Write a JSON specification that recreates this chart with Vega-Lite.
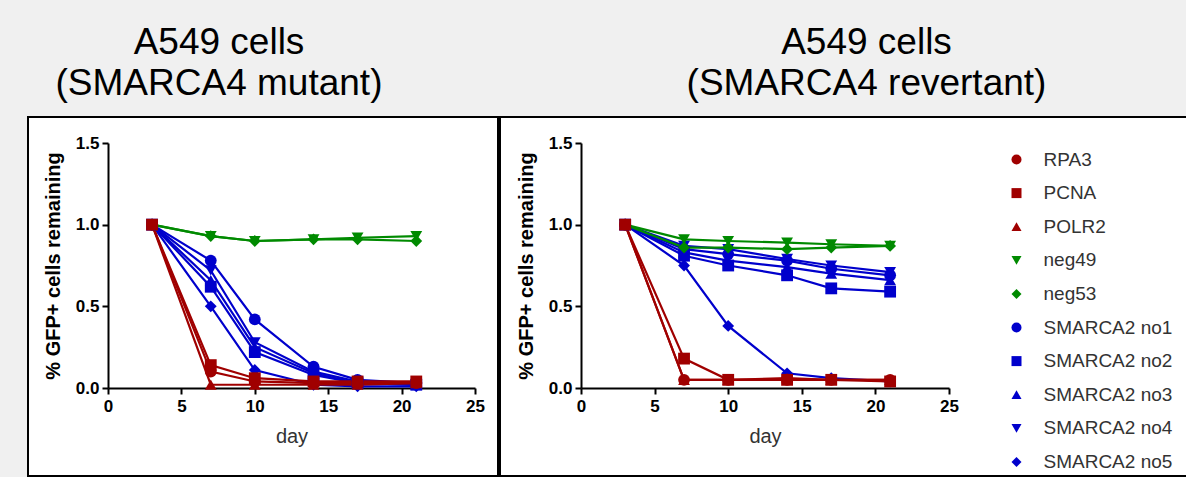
{
  "$schema": "https://vega.github.io/schema/vega-lite/v6.json",
  "background": "#f0f0f0",
  "padding": {"left": 27, "top": 23, "right": 0, "bottom": 0},
  "spacing": 0,
  "config": {
    "view": {"fill": "white", "stroke": "black", "strokeWidth": 2},
    "font": "Liberation Sans",
    "title": {"fontSize": 37, "fontWeight": "normal", "font": "Liberation Sans", "lineHeight": 41, "anchor": "middle", "color": "black", "offset": 14},
    "axis": {"grid": false, "labelFlush": false, "domainColor": "black", "domainWidth": 2, "tickColor": "black", "tickWidth": 2, "tickSize": 6, "labelFont": "Liberation Sans", "labelFontSize": 17, "labelFontWeight": "bold", "labelColor": "black", "titleFont": "Liberation Sans"},
    "axisX": {"titleFontWeight": "normal", "titleFontSize": 20, "titleColor": "#333", "labelPadding": 4, "titlePadding": 12},
    "axisY": {"titleFontWeight": "bold", "titleFontSize": 20, "titleColor": "black", "labelPadding": 3, "titlePadding": 12}
  },
  "datasets": {
    "d": [
      {"p":"m","s":"SMARCA2 no1","d":3,"v":1.0},{"p":"m","s":"SMARCA2 no1","d":7,"v":0.78},{"p":"m","s":"SMARCA2 no1","d":10,"v":0.42},{"p":"m","s":"SMARCA2 no1","d":14,"v":0.13},{"p":"m","s":"SMARCA2 no1","d":17,"v":0.05},{"p":"m","s":"SMARCA2 no1","d":21,"v":0.03},
      {"p":"m","s":"SMARCA2 no2","d":3,"v":1.0},{"p":"m","s":"SMARCA2 no2","d":7,"v":0.62},{"p":"m","s":"SMARCA2 no2","d":10,"v":0.22},{"p":"m","s":"SMARCA2 no2","d":14,"v":0.08},{"p":"m","s":"SMARCA2 no2","d":17,"v":0.03},{"p":"m","s":"SMARCA2 no2","d":21,"v":0.02},
      {"p":"m","s":"SMARCA2 no3","d":3,"v":1.0},{"p":"m","s":"SMARCA2 no3","d":7,"v":0.66},{"p":"m","s":"SMARCA2 no3","d":10,"v":0.25},{"p":"m","s":"SMARCA2 no3","d":14,"v":0.09},{"p":"m","s":"SMARCA2 no3","d":17,"v":0.03},{"p":"m","s":"SMARCA2 no3","d":21,"v":0.02},
      {"p":"m","s":"SMARCA2 no4","d":3,"v":1.0},{"p":"m","s":"SMARCA2 no4","d":7,"v":0.72},{"p":"m","s":"SMARCA2 no4","d":10,"v":0.28},{"p":"m","s":"SMARCA2 no4","d":14,"v":0.10},{"p":"m","s":"SMARCA2 no4","d":17,"v":0.04},{"p":"m","s":"SMARCA2 no4","d":21,"v":0.02},
      {"p":"m","s":"SMARCA2 no5","d":3,"v":1.0},{"p":"m","s":"SMARCA2 no5","d":7,"v":0.50},{"p":"m","s":"SMARCA2 no5","d":10,"v":0.11},{"p":"m","s":"SMARCA2 no5","d":14,"v":0.02},{"p":"m","s":"SMARCA2 no5","d":17,"v":0.01},{"p":"m","s":"SMARCA2 no5","d":21,"v":0.01},
      {"p":"m","s":"neg49","d":3,"v":1.0},{"p":"m","s":"neg49","d":7,"v":0.93},{"p":"m","s":"neg49","d":10,"v":0.90},{"p":"m","s":"neg49","d":14,"v":0.91},{"p":"m","s":"neg49","d":17,"v":0.92},{"p":"m","s":"neg49","d":21,"v":0.93},
      {"p":"m","s":"neg53","d":3,"v":1.0},{"p":"m","s":"neg53","d":7,"v":0.93},{"p":"m","s":"neg53","d":10,"v":0.90},{"p":"m","s":"neg53","d":14,"v":0.91},{"p":"m","s":"neg53","d":17,"v":0.91},{"p":"m","s":"neg53","d":21,"v":0.90},
      {"p":"m","s":"RPA3","d":3,"v":1.0},{"p":"m","s":"RPA3","d":7,"v":0.10},{"p":"m","s":"RPA3","d":10,"v":0.04},{"p":"m","s":"RPA3","d":14,"v":0.03},{"p":"m","s":"RPA3","d":17,"v":0.03},{"p":"m","s":"RPA3","d":21,"v":0.03},
      {"p":"m","s":"PCNA","d":3,"v":1.0},{"p":"m","s":"PCNA","d":7,"v":0.14},{"p":"m","s":"PCNA","d":10,"v":0.06},{"p":"m","s":"PCNA","d":14,"v":0.04},{"p":"m","s":"PCNA","d":17,"v":0.04},{"p":"m","s":"PCNA","d":21,"v":0.04},
      {"p":"m","s":"POLR2","d":3,"v":1.0},{"p":"m","s":"POLR2","d":7,"v":0.02},{"p":"m","s":"POLR2","d":10,"v":0.02},{"p":"m","s":"POLR2","d":14,"v":0.02},{"p":"m","s":"POLR2","d":17,"v":0.02},{"p":"m","s":"POLR2","d":21,"v":0.03},
      {"p":"r","s":"SMARCA2 no1","d":3,"v":1.0},{"p":"r","s":"SMARCA2 no1","d":7,"v":0.85},{"p":"r","s":"SMARCA2 no1","d":10,"v":0.82},{"p":"r","s":"SMARCA2 no1","d":14,"v":0.78},{"p":"r","s":"SMARCA2 no1","d":17,"v":0.73},{"p":"r","s":"SMARCA2 no1","d":21,"v":0.69},
      {"p":"r","s":"SMARCA2 no2","d":3,"v":1.0},{"p":"r","s":"SMARCA2 no2","d":7,"v":0.81},{"p":"r","s":"SMARCA2 no2","d":10,"v":0.75},{"p":"r","s":"SMARCA2 no2","d":14,"v":0.69},{"p":"r","s":"SMARCA2 no2","d":17,"v":0.61},{"p":"r","s":"SMARCA2 no2","d":21,"v":0.59},
      {"p":"r","s":"SMARCA2 no3","d":3,"v":1.0},{"p":"r","s":"SMARCA2 no3","d":7,"v":0.83},{"p":"r","s":"SMARCA2 no3","d":10,"v":0.78},{"p":"r","s":"SMARCA2 no3","d":14,"v":0.74},{"p":"r","s":"SMARCA2 no3","d":17,"v":0.70},{"p":"r","s":"SMARCA2 no3","d":21,"v":0.66},
      {"p":"r","s":"SMARCA2 no4","d":3,"v":1.0},{"p":"r","s":"SMARCA2 no4","d":7,"v":0.87},{"p":"r","s":"SMARCA2 no4","d":10,"v":0.85},{"p":"r","s":"SMARCA2 no4","d":14,"v":0.79},{"p":"r","s":"SMARCA2 no4","d":17,"v":0.75},{"p":"r","s":"SMARCA2 no4","d":21,"v":0.71},
      {"p":"r","s":"SMARCA2 no5","d":3,"v":1.0},{"p":"r","s":"SMARCA2 no5","d":7,"v":0.75},{"p":"r","s":"SMARCA2 no5","d":10,"v":0.38},{"p":"r","s":"SMARCA2 no5","d":14,"v":0.09},{"p":"r","s":"SMARCA2 no5","d":17,"v":0.06},{"p":"r","s":"SMARCA2 no5","d":21,"v":0.04},
      {"p":"r","s":"neg49","d":3,"v":1.0},{"p":"r","s":"neg49","d":7,"v":0.91},{"p":"r","s":"neg49","d":10,"v":0.90},{"p":"r","s":"neg49","d":14,"v":0.89},{"p":"r","s":"neg49","d":17,"v":0.88},{"p":"r","s":"neg49","d":21,"v":0.87},
      {"p":"r","s":"neg53","d":3,"v":1.0},{"p":"r","s":"neg53","d":7,"v":0.86},{"p":"r","s":"neg53","d":10,"v":0.86},{"p":"r","s":"neg53","d":14,"v":0.85},{"p":"r","s":"neg53","d":17,"v":0.86},{"p":"r","s":"neg53","d":21,"v":0.87},
      {"p":"r","s":"RPA3","d":3,"v":1.0},{"p":"r","s":"RPA3","d":7,"v":0.05},{"p":"r","s":"RPA3","d":10,"v":0.05},{"p":"r","s":"RPA3","d":14,"v":0.05},{"p":"r","s":"RPA3","d":17,"v":0.05},{"p":"r","s":"RPA3","d":21,"v":0.05},
      {"p":"r","s":"PCNA","d":3,"v":1.0},{"p":"r","s":"PCNA","d":7,"v":0.18},{"p":"r","s":"PCNA","d":10,"v":0.05},{"p":"r","s":"PCNA","d":14,"v":0.05},{"p":"r","s":"PCNA","d":17,"v":0.05},{"p":"r","s":"PCNA","d":21,"v":0.04},
      {"p":"r","s":"POLR2","d":3,"v":1.0},{"p":"r","s":"POLR2","d":7,"v":0.05},{"p":"r","s":"POLR2","d":10,"v":0.05},{"p":"r","s":"POLR2","d":14,"v":0.06},{"p":"r","s":"POLR2","d":17,"v":0.05},{"p":"r","s":"POLR2","d":21,"v":0.05}
    ]
  },
  "resolve": {"legend": {"color": "independent", "shape": "independent"}},
  "hconcat": [
    {
      "width": 470,
      "height": 359,
      "data": {"name": "d"},
      "transform": [{"filter": "datum.p == 'm'"}],
      "title": {"text": ["A549 cells", "(SMARCA4 mutant)"], "dx": -44},
      "encoding": {
        "x": {"field": "d", "type": "quantitative", "scale": {"domain": [0, 25], "range": [80, 447], "nice": false, "zero": true, "padding": 0}, "axis": {"values": [0, 5, 10, 15, 20, 25], "offset": -88, "title": "day"}},
        "y": {"field": "v", "type": "quantitative", "scale": {"domain": [0, 1.5], "range": [271, 26], "nice": false, "padding": 0}, "axis": {"values": [0, 0.5, 1, 1.5], "format": ".1f", "offset": -80, "title": "% GFP+ cells remaining"}},
        "color": {"field": "s", "type": "nominal", "scale": {"domain": ["RPA3","PCNA","POLR2","neg49","neg53","SMARCA2 no1","SMARCA2 no2","SMARCA2 no3","SMARCA2 no4","SMARCA2 no5"], "range": ["#a00000","#a00000","#a00000","#008a00","#008a00","#0000cc","#0000cc","#0000cc","#0000cc","#0000cc"]}, "legend": null}
      },
      "layer": [
        {"mark": {"type": "line", "strokeWidth": 2.2}},
        {"mark": {"type": "point", "filled": true, "size": 140, "opacity": 1}, "encoding": {"shape": {"field": "s", "type": "nominal", "scale": {"domain": ["RPA3","PCNA","POLR2","neg49","neg53","SMARCA2 no1","SMARCA2 no2","SMARCA2 no3","SMARCA2 no4","SMARCA2 no5"], "range": ["circle","square","triangle-up","triangle-down","diamond","circle","square","triangle-up","triangle-down","diamond"]}, "legend": null}}}
      ]
    },
    {
      "width": 687,
      "height": 359,
      "data": {"name": "d"},
      "transform": [{"filter": "datum.p == 'r'"}],
      "title": {"text": ["A549 cells", "(SMARCA4 revertant)"], "dx": 23},
      "encoding": {
        "x": {"field": "d", "type": "quantitative", "scale": {"domain": [0, 25], "range": [81, 449], "nice": false, "zero": true, "padding": 0}, "axis": {"values": [0, 5, 10, 15, 20, 25], "offset": -88, "title": "day"}},
        "y": {"field": "v", "type": "quantitative", "scale": {"domain": [0, 1.5], "range": [271, 26], "nice": false, "padding": 0}, "axis": {"values": [0, 0.5, 1, 1.5], "format": ".1f", "offset": -81, "title": "% GFP+ cells remaining"}},
        "color": {
          "field": "s", "type": "nominal",
          "scale": {"domain": ["RPA3","PCNA","POLR2","neg49","neg53","SMARCA2 no1","SMARCA2 no2","SMARCA2 no3","SMARCA2 no4","SMARCA2 no5"], "range": ["#a00000","#a00000","#a00000","#008a00","#008a00","#0000cc","#0000cc","#0000cc","#0000cc","#0000cc"]},
          "legend": {
            "orient": "none", "legendX": 507, "legendY": 33, "title": null,
            "labelFont": "Liberation Sans", "labelFontSize": 19, "labelColor": "#333",
            "symbolSize": 100, "symbolStrokeWidth": 0, "rowPadding": 13.6, "labelOffset": 17.5
          }
        }
      },
      "layer": [
        {"mark": {"type": "line", "strokeWidth": 2.2}},
        {"mark": {"type": "point", "filled": true, "size": 140, "opacity": 1}, "encoding": {"shape": {"field": "s", "type": "nominal", "scale": {"domain": ["RPA3","PCNA","POLR2","neg49","neg53","SMARCA2 no1","SMARCA2 no2","SMARCA2 no3","SMARCA2 no4","SMARCA2 no5"], "range": ["circle","square","triangle-up","triangle-down","diamond","circle","square","triangle-up","triangle-down","diamond"]}, "legend": null}}}
      ]
    }
  ]
}
